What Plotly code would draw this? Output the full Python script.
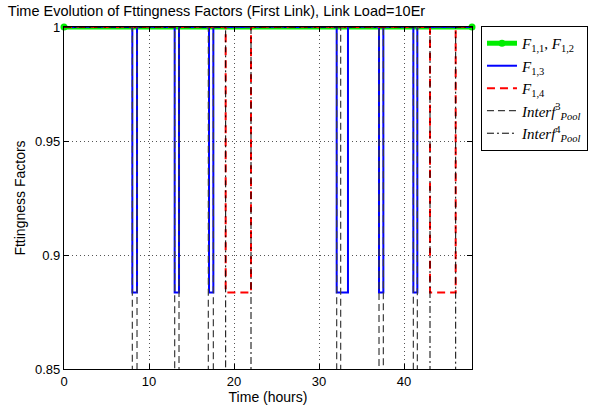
import plotly.graph_objects as go

# ---- data ----
x_range = [0, 48]
green_t = [0, 48]
green_v = [1, 1]

f13_start = [8.04, 13.02, 17.06, 32.08, 37.06, 41.10]
f13_end = [8.59, 13.53, 17.57, 33.41, 37.57, 41.57]
f14_start = [19.02, 43.06]
f14_end = [22.00, 46.08]
if3_start = [8.04, 13.02, 16.98, 32.08, 37.06, 41.10]
if3_end = [8.59, 13.53, 17.57, 32.55, 37.57, 41.57]
if4_start = [19.02, 43.06]
if4_end = [22.00, 46.08]

high_level = 1.0
fit_low = 0.8835
interf_low = 0.0

x_ticks = [0, 10, 20, 30, 40]
y_ticks = [0.85, 0.9, 0.95, 1]
y_ticklabels = ["0.85", "0.9", "0.95", "1"]


def step(starts, ends, low, t0=0, t1=48):
    xs, ys = [t0], [high_level]
    for s, e in zip(starts, ends):
        xs += [s, s, e, e]
        ys += [high_level, low, low, high_level]
    xs.append(t1)
    ys.append(high_level)
    return xs, ys


fig = go.Figure()
fig.add_trace(go.Scatter(x=green_t, y=green_v, mode="lines+markers",
                         line=dict(color="#00ee00", width=5),
                         marker=dict(color="#00ee00", size=7),
                         cliponaxis=False,
                         name="<i>F</i><sub>1,1</sub>, <i>F</i><sub>1,2</sub>"))
x, y = step(f13_start, f13_end, fit_low)
fig.add_trace(go.Scatter(x=x, y=y, mode="lines", line=dict(color="#0000ff", width=2),
                         name="<i>F</i><sub>1,3</sub>"))
x, y = step(f14_start, f14_end, fit_low)
fig.add_trace(go.Scatter(x=x, y=y, mode="lines",
                         line=dict(color="#ff0000", width=2, dash="8px,5px"),
                         name="<i>F</i><sub>1,4</sub>"))
x, y = step(if3_start, if3_end, interf_low)
fig.add_trace(go.Scatter(x=x, y=y, mode="lines",
                         line=dict(color="#3c3c3c", width=1.2, dash="7px,4px"),
                         name="<i>Interf</i><sup>3</sup><sub><i>Pool</i></sub>"))
x, y = step(if4_start, if4_end, interf_low)
fig.add_trace(go.Scatter(x=x, y=y, mode="lines",
                         line=dict(color="#000000", width=1, dash="7px,3px,2px,3px"),
                         name="<i>Interf</i><sup>4</sup><sub><i>Pool</i></sub>"))

axis_common = dict(showline=True, linecolor="black", linewidth=1.3, mirror="ticks",
                   ticks="inside", ticklen=5, tickcolor="black",
                   showgrid=True, gridcolor="#555555", griddash="1px,3px", gridwidth=0.7,
                   zeroline=False, automargin=False,
                   tickfont=dict(family="Liberation Sans, Arial", size=13, color="black"))

fig.update_xaxes(range=x_range, tickvals=x_ticks,
                 title=dict(text="Time (hours)", standoff=0,
                            font=dict(family="Liberation Sans, Arial", size=14, color="black")),
                 **axis_common)
fig.update_yaxes(range=[0.85, 1], tickvals=y_ticks, ticktext=y_ticklabels,
                 title=dict(text="Fttingness Factors", standoff=6,
                            font=dict(family="Liberation Sans, Arial", size=14, color="black")),
                 **axis_common)

fig.update_layout(
    width=603, height=413,
    margin=dict(l=64, r=131, t=27, b=44),
    paper_bgcolor="white", plot_bgcolor="white",
    title=dict(text="Time Evolution of Fttingness Factors (First Link), Link Load=10Er",
               x=0.013, xanchor="left", xref="container",
               y=1 - 11 / 413, yanchor="middle", yref="container",
               font=dict(family="Liberation Sans, Arial", size=14.5, color="black")),
    legend=dict(x=1.022, xanchor="left", y=1.003, yanchor="top",
                bordercolor="black", borderwidth=1, bgcolor="white",
                tracegroupgap=0, itemwidth=30,
                font=dict(family="Liberation Serif, DejaVu Serif", size=15, color="black")),
    showlegend=True,
)

fig.write_html("out.html", config={"displayModeBar": False},
               post_script="document.body.style.margin='0px';")
